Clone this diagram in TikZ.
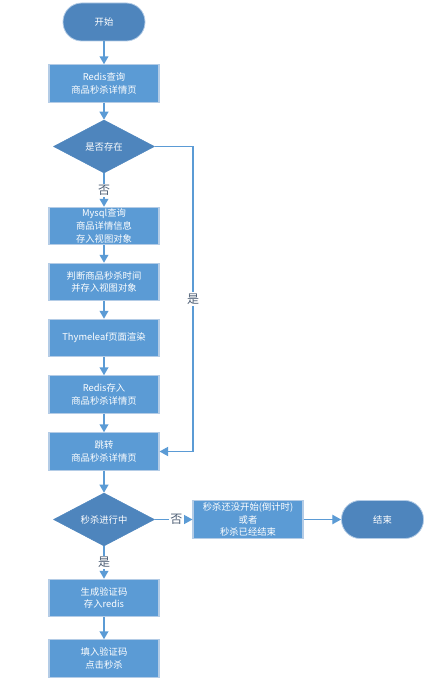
\documentclass[tikz,border=0pt]{standalone}
\usepackage{fontspec}
\setmainfont{Noto Sans CJK SC}
\usepackage{xcolor}
\usepackage{tikz}
\usetikzlibrary{arrows.meta}
\usetikzlibrary{shapes.geometric}
\definecolor{boxblue}{HTML}{5B9BD5}
\definecolor{darkblue}{HTML}{4E85BD}
\definecolor{rimblue}{HTML}{B4CCE6}
\definecolor{labelgray}{HTML}{4F6076}
\tikzset{
    fnode/.style = {align=center, inner sep=0pt, text centered, white, font=\fontsize{7}{9.6}\selectfont},
    proc_node/.style = {fnode, rectangle, fill=boxblue, draw=rimblue, line width=0.8pt, minimum width=82.5pt, minimum height=28pt},
    term_node/.style = {fnode, rectangle, rounded corners=14pt, fill=darkblue, draw=rimblue, line width=0.6pt, minimum width=61.5pt, minimum height=28.5pt},
    cond_node/.style = {fnode, diamond, fill=darkblue, draw=darkblue, aspect=1.9, minimum width=75.75pt, minimum height=39.75pt},
    flow/.style = {draw=boxblue, line width=1.4pt, -{Triangle[length=6pt,width=6.5pt]}},
    thin_flow/.style = {flow, line width=0.8pt, -{Triangle[length=6.5pt,width=7pt]}},
    yn/.style = {labelgray, fill=white, inner sep=1pt, font=\fontsize{9}{9}\selectfont}
}
\begin{document}
\begin{tikzpicture}[x=0.75pt, y=-0.75pt]
    \useasboundingbox (0,0) rectangle (430,681);

    % main column
    \node [term_node] (start) at (104,22) {开始};
    \node [proc_node] (redis_query) at (104,83.5) {Redis查询\\商品秒杀详情页};
    \node [cond_node] (exists) at (104,146.5) {是否存在};
    \node [proc_node] (mysql_query) at (104,226) {Mysql查询\\商品详情信息\\存入视图对象};
    \node [proc_node] (judge_time) at (104,282) {判断商品秒杀时间\\并存入视图对象};
    \node [proc_node] (render) at (104,338) {Thymeleaf页面渲染};
    \node [proc_node] (redis_save) at (104,394.5) {Redis存入\\商品秒杀详情页};
    \node [proc_node] (jump) at (104,451.5) {跳转\\商品秒杀详情页};
    \node [cond_node] (running) at (104,519.5) {秒杀进行中};
    \node [proc_node] (gen_code) at (104,598) {生成验证码\\存入redis};
    \node [proc_node] (fill_code) at (104,658.5) {填入验证码\\点击秒杀};

    % side branch
    \node [proc_node] (not_running) at (248,519.5) {秒杀还没开始(倒计时)\\或者\\秒杀已经结束};
    \node [term_node] (finish) at (382.5,519.5) {结束};
    \coordinate (yes_turn) at (193,451.5);

    \draw [flow] (start) -- (redis_query);
    \draw [flow] (redis_query) -- (exists);
    \draw [flow] (exists) -- node [yn] {否} (mysql_query);
    \draw [thin_flow] (exists.east) -| node [yn, pos=0.75] {是} (yes_turn) -- (jump.east);
    \draw [flow] (mysql_query) -- (judge_time);
    \draw [flow] (judge_time) -- (render);
    \draw [flow] (render) -- (redis_save);
    \draw [flow] (redis_save) -- (jump);
    \draw [flow] (jump) -- (running);
    \draw [thin_flow] (running) -- node [yn, pos=0.57] {否} (not_running);
    \draw [thin_flow] (not_running) -- (finish);
    \draw [flow] (running) -- node [yn] {是} (gen_code);
    \draw [flow] (gen_code) -- (fill_code);
\end{tikzpicture}
\end{document}
